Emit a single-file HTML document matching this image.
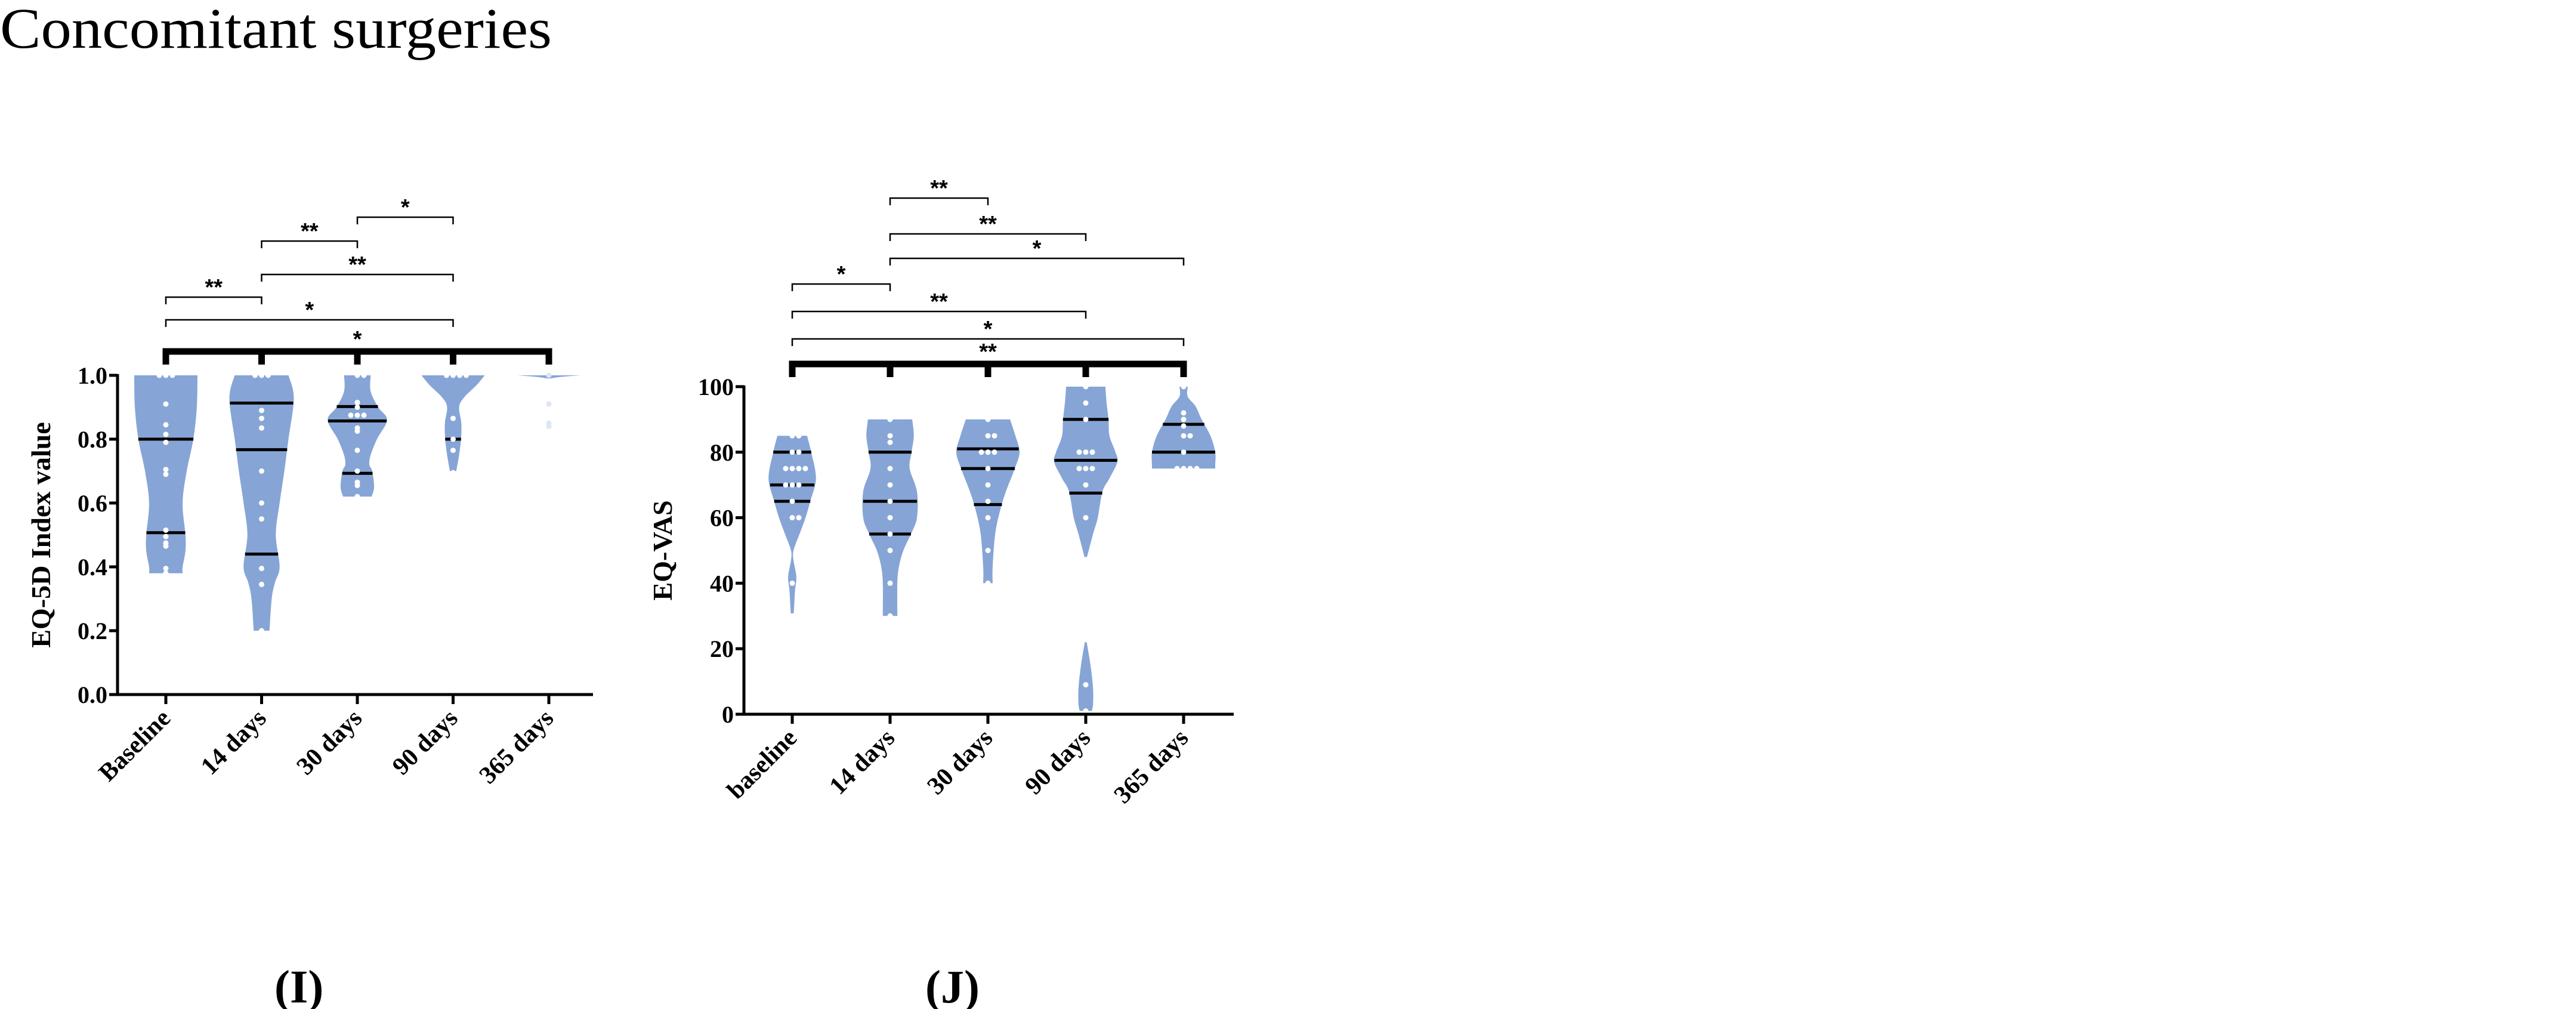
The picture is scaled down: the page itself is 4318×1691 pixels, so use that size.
<!DOCTYPE html>
<html><head><meta charset="utf-8"><style>
html,body{margin:0;padding:0;background:#fff;}
svg{display:block;}
</style></head><body>
<svg id="fig" width="4318" height="1691" viewBox="0 0 4318 1691" xmlns="http://www.w3.org/2000/svg">
<text x="0" y="80" font-family="Liberation Serif, serif" font-size="96" textLength="925" lengthAdjust="spacingAndGlyphs">Concomitant surgeries</text>
<text x="460" y="1680" font-family="Liberation Serif, serif" font-size="78" font-weight="bold">(I)</text>
<text x="1551" y="1680" font-family="Liberation Serif, serif" font-size="78" font-weight="bold">(J)</text>
<g id="chartI"></g>
<g id="chartJ"></g>
</svg>
<script>
// ---- Chart I data (EQ-5D index) ----
const catsI = ["Baseline","14 days","30 days","90 days","365 days"];
const ticksI = [0.0,0.2,0.4,0.6,0.8,1.0];
const tickLabelsI = ["0.0","0.2","0.4","0.6","0.8","1.0"];
// violin profiles: [value, relative width 0..1]
const violinI0 = [[1.0,1.0],[0.9,0.98],[0.8,0.87],[0.7,0.66],[0.6,0.53],[0.5,0.62],[0.45,0.62],[0.4,0.53],[0.38,0.53]];
const violinI1 = [[1.0,0.85],[0.95,1.0],[0.9,1.0],[0.8,0.85],[0.7,0.72],[0.6,0.57],[0.5,0.45],[0.4,0.57],[0.35,0.42],[0.3,0.32],[0.2,0.25]];
const violinI2 = [[1.0,0.42],[0.95,0.42],[0.9,0.66],[0.86,0.94],[0.8,0.62],[0.75,0.42],[0.72,0.38],[0.7,0.47],[0.65,0.53],[0.62,0.45]];
const violinI3 = [[1.0,1.0],[0.97,0.75],[0.93,0.34],[0.9,0.19],[0.85,0.26],[0.8,0.25],[0.75,0.19],[0.7,0.1]];
const violinI4 = [[1.0,1.0],[0.995,0.38],[0.99,0.04]];
const quartI = [[0.8,0.507],[0.913,0.767,0.44],[0.902,0.857,0.693],[0.8],[]];
const pointsI = [
 [1.0,1.0,1.0,0.91,0.845,0.815,0.79,0.705,0.69,0.515,0.495,0.475,0.465,0.395,0.38],
 [1.0,1.0,1.0,0.89,0.865,0.835,0.7,0.6,0.55,0.395,0.345,0.2],
 [1.0,1.0,0.915,0.9,0.875,0.875,0.875,0.835,0.825,0.765,0.7,0.665,0.655,0.62],
 [1.0,1.0,1.0,1.0,0.865,0.8,0.765,0.695],
 [1.0,0.91,0.85,0.84]];
const bracketsI = [[0,3,"*"],[0,1,"**"],[1,3,"**"],[1,2,"**"],[2,3,"*"]];
// ---- Chart J data (EQ-VAS) ----
const catsJ = ["baseline","14 days","30 days","90 days","365 days"];
const ticksJ = [0,20,40,60,80,100];
const tickLabelsJ = ["0","20","40","60","80","100"];
const violinJ0 = [[85,0.47],[80,0.6],[72,0.75],[65,0.57],[60,0.42],[55,0.23],[50,0.04],[47,0.04],[42,0.13],[38,0.09],[33,0.06],[30,0.04]];
const violinJ1 = [[90,0.7],[85,0.75],[80,0.68],[75,0.62],[68,0.85],[60,0.85],[55,0.66],[50,0.42],[45,0.28],[40,0.23],[30,0.23]];
const violinJ2 = [[90,0.7],[85,0.87],[80,1.0],[75,0.85],[68,0.57],[62,0.38],[55,0.23],[45,0.15],[40,0.15]];
const violinJ3a = [[100,0.62],[95,0.66],[90,0.72],[85,0.75],[80,0.94],[77,1.0],[72,0.75],[68,0.53],[60,0.38],[55,0.23],[48,0.04]];
const violinJ3b = [[22,0.03],[15,0.15],[8,0.23],[3,0.23],[1,0.19]];
const violinJ4 = [[100,0.13],[97,0.13],[94,0.38],[90,0.57],[85,0.85],[80,1.0],[76,1.0],[75,1.0]];
const quartJ = [[80,70,65],[80,65,55],[81,75,64],[90,77.5,67.5],[88.5,80]];
const pointsJ = [
 [85,85,80,80,75,75,75,75,70,70,70,65,60,60,40,30],
 [90,85,83,75,70,65,60,55,50,40,30],
 [90,85,85,80,80,80,75,70,65,60,50,40],
 [100,95,90,80,80,80,75,75,75,70,60,9,1],
 [100,92,90,88,85,85,80,75,75,75,75]];
const bracketsJ = [[0,4,"*"],[0,3,"**"],[0,1,"*"],[1,4,"*"],[1,3,"**"],[1,2,"**"]];

const NS="http://www.w3.org/2000/svg";
const FILL="#86a5d6";
function mk(parent,tag,attrs){const e=document.createElementNS(NS,tag);for(const k in attrs)e.setAttribute(k,attrs[k]);parent.appendChild(e);return e;}

function catmull(pts){let d="M"+pts[0][0]+","+pts[0][1];
 for(let i=0;i<pts.length-1;i++){const p0=pts[Math.max(0,i-1)],p1=pts[i],p2=pts[i+1],p3=pts[Math.min(pts.length-1,i+2)];
  d+=" C"+(p1[0]+(p2[0]-p0[0])/6)+","+(p1[1]+(p2[1]-p0[1])/6)+" "+(p2[0]-(p3[0]-p1[0])/6)+","+(p2[1]-(p3[1]-p1[1])/6)+" "+p2[0]+","+p2[1];}
 return d;}

function drawChart(g,cfg){
 const y=v=>cfg.y0+(v-cfg.vmin)/(cfg.vmax-cfg.vmin)*(cfg.y1-cfg.y0);
 const x=i=>cfg.xStart+i*cfg.xStep;
 cfg.violins.forEach((list,i)=>{list.forEach(prof=>{
  const right=prof.map(p=>[x(i)+p[1]*cfg.halfW,y(p[0])]);
  const left=prof.slice().reverse().map(p=>[x(i)-p[1]*cfg.halfW,y(p[0])]);
  const d=catmull(right)+" L"+left[0][0]+","+left[0][1]+" "+catmull(left).slice(1).replace(/^[^C]*/,"")+" Z";
  const el=mk(g,"path",{d:d,fill:FILL});
  
  
 });});
 cfg.quarts.forEach((qs,i)=>{qs.forEach(q=>{
  let w=0;cfg.violins[i].forEach(prof=>{for(let k=0;k<prof.length-1;k++){const a=prof[k],b=prof[k+1];const lo=Math.min(a[0],b[0]),hi=Math.max(a[0],b[0]);if(q>=lo&&q<=hi){const t=(hi==lo)?0:(q-a[0])/(b[0]-a[0]);w=Math.max(w,a[1]+t*(b[1]-a[1]));}}});
  const el=mk(g,"line",{x1:x(i)-w*cfg.halfW,x2:x(i)+w*cfg.halfW,y1:y(q),y2:y(q),stroke:"#000","stroke-width":5});
  
  
 });});
 cfg.points.forEach((ps,i)=>{const seen={};ps.forEach(v=>{const n=seen[v]=(seen[v]||0)+1;const k=n-1;const off=(k%2?1:-1)*Math.ceil(k/2)*11;
  const el=mk(g,"circle",{cx:x(i)+off,cy:y(v),r:4.5,fill:i==4&&cfg.fade?"#dde6f4":"#fff"});
  
  
 });});
 const ax=mk(g,"path",{d:"M"+cfg.axX+","+(y(cfg.vmax)-2)+" V"+y(cfg.vmin)+" H"+cfg.axEnd,stroke:"#000","stroke-width":5,fill:"none"});
 
 
 cfg.ticks.forEach((t,k)=>{
  const tl=mk(g,"line",{x1:cfg.axX-14,x2:cfg.axX,y1:y(t),y2:y(t),stroke:"#000","stroke-width":5});
  
  
  const tx=mk(g,"text",{x:cfg.axX-17,y:y(t)+14,"text-anchor":"end","font-family":"Liberation Serif, serif","font-size":40,"font-weight":"bold"});
  tx.textContent=cfg.tickLabels[k];
  
  
 });
 cfg.cats.forEach((c,i)=>{
  const tl=mk(g,"line",{x1:x(i),x2:x(i),y1:y(cfg.vmin),y2:y(cfg.vmin)+16,stroke:"#000","stroke-width":5});
  
  
  const tx=mk(g,"text",{x:0,y:0,"text-anchor":"end","font-family":"Liberation Serif, serif","font-size":42,"font-weight":"bold",transform:"translate("+(x(i)+10)+","+(y(cfg.vmin)+42)+") rotate(-45)"});
  tx.textContent=c;
  
  
 });
 const tt=mk(g,"text",{x:0,y:0,"text-anchor":"middle","font-family":"Liberation Serif, serif","font-size":46,"font-weight":"bold",transform:"translate("+cfg.titleX+","+((y(cfg.vmin)+y(cfg.vmax))/2)+") rotate(-90)"});
 tt.textContent=cfg.title;
 
 
 const tb=mk(g,"path",{d:"M"+x(0)+","+(cfg.thickY+22)+" V"+cfg.thickY+" H"+x(4)+" V"+(cfg.thickY+22)+" M"+x(1)+","+cfg.thickY+" v22 M"+x(2)+","+cfg.thickY+" v22 M"+x(3)+","+cfg.thickY+" v22",stroke:"#000","stroke-width":11,fill:"none"});
 
 
 const ts=mk(g,"text",{x:(x(0)+x(4))/2,y:cfg.thickY-8,"text-anchor":"middle","font-family":"Liberation Sans, sans-serif","font-size":38,"font-weight":"bold"});
 ts.textContent=cfg.thickStar;
 
 
 cfg.brackets.forEach((b,k)=>{const by=cfg.brY[k];
  const p=mk(g,"path",{d:"M"+x(b[0])+","+(by+12)+" V"+by+" H"+x(b[1])+" V"+(by+12),stroke:"#000","stroke-width":2.5,fill:"none"});
  
  
  const s=mk(g,"text",{x:(x(b[0])+x(b[1]))/2,y:by-4,"text-anchor":"middle","font-family":"Liberation Sans, sans-serif","font-size":38,"font-weight":"bold"});
  s.textContent=b[2];
  
  
 });
}
drawChart(document.getElementById("chartI"),{cats:catsI,ticks:ticksI,tickLabels:tickLabelsI,vmin:0,vmax:1,y0:1164,y1:629,xStart:278,xStep:160.5,halfW:53,axX:197,axEnd:994,
 violins:[[violinI0],[violinI1],[violinI2],[violinI3],[violinI4]],quarts:quartI,points:pointsI,fade:true,title:"EQ-5D Index value",titleX:84,
 thickY:589,thickStar:"*",brackets:bracketsI,brY:[536,498,460,404,364]});
drawChart(document.getElementById("chartJ"),{cats:catsJ,ticks:ticksJ,tickLabels:tickLabelsJ,vmin:0,vmax:100,y0:1197,y1:648,xStart:1328,xStep:164,halfW:53,axX:1247,axEnd:2068,
 violins:[[violinJ0],[violinJ1],[violinJ2],[violinJ3a,violinJ3b],[violinJ4]],quarts:quartJ,points:pointsJ,fade:false,title:"EQ-VAS",titleX:1126,
 thickY:610,thickStar:"**",brackets:bracketsJ,brY:[568,522,476,433,392,332]});
</script>
</body></html>
